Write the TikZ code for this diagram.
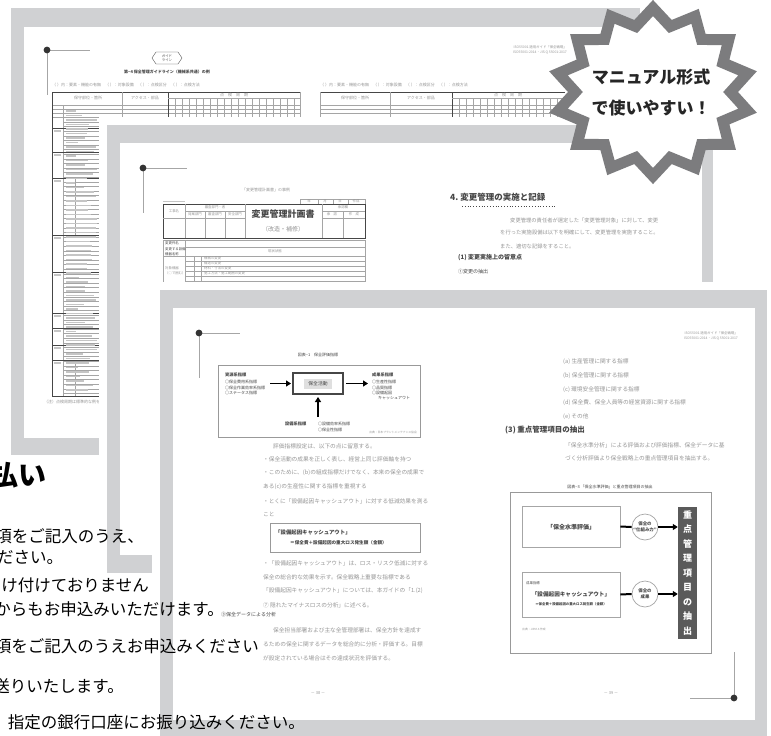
\documentclass[tikz,border=0pt]{standalone}
\usepackage{fontspec}
\setmainfont{Noto Sans CJK JP}
\usetikzlibrary{arrows.meta}
\definecolor{framegray}{RGB}{208,209,211}
\definecolor{stargray}{RGB}{124,124,126}
\definecolor{txt}{RGB}{150,150,150}
\definecolor{dtxt}{RGB}{70,70,70}
\definecolor{rule}{RGB}{165,165,165}
\definecolor{bardark}{RGB}{90,90,90}
\begin{document}
\begin{tikzpicture}[x=1pt,y=-1pt,
 tt/.style={font=\fontsize{4}{4.5}\selectfont, text=txt, inner sep=0pt},
 tx/.style={font=\fontsize{3.4}{3.8}\selectfont, text=txt, inner sep=0pt},
 ts/.style={font=\fontsize{5.7}{6}\selectfont, text=txt, inner sep=0pt},
 hd/.style={font=\bfseries\fontsize{#1}{#1}\selectfont, text=dtxt, inner sep=0pt},
 body/.style={font=\fontsize{16.5}{17}\selectfont, text=black, inner sep=0pt, anchor=east},
 rl/.style={draw=rule, line width=0.3pt},
 dk/.style={draw=dtxt, line width=0.7pt},
 cornerline/.style={draw=gray!70, line width=0.6pt},
 cornerdot/.style={fill=black!80},
 arr/.style={draw=black, line width=1.5pt, -{Triangle[length=5pt,width=6pt]}},
 thk/.style={draw=black, line width=2pt},
 bars/.style={fill=txt!55},
]
\useasboundingbox (0,0) rectangle (771,736);
\clip (0,0) rectangle (771,736);
\fill[white] (0,0) rectangle (771,736);

% ================= PAGE 1 (back) =================
\fill[framegray] (11,8) rectangle (640,455);
\fill[white] (24,27) rectangle (627,438);
\coordinate (c1) at (47,50);
\draw[cornerline] (c1) -- (90,50);
\draw[cornerline] (c1) -- (47,95);
\fill[cornerdot] (c1) circle (3.4);
% emblem
\draw[dtxt, line width=0.4pt] (152,58) -- (156,52) -- (178,52) -- (182,58) -- (178,64) -- (156,64) -- cycle;
\node[tx, align=center, text=dtxt] (emb) at (167,58) {ガイド\\ライン};
\node[hd=4] (p1title) at (167,72) {第−4 保全管理ガイドライン（機械系共通）の例};
\node[tt, anchor=west] (p1note) at (52,85) {（ ）内：要素・機能の有無　（ ）：対象設備　（ ）：点検区分　（ ）：点検方法};
% left page table top
\draw[dk] (52,92) -- (300,92);
\draw[rl] (52,105) -- (300,105);
\foreach \y in {109,113,117} \draw[rl] (52,\y) -- (300,\y);
\draw[rl] (122,92) -- (122,122);
\draw[dk] (168,92) -- (168,122);
\draw[rl] (300,92) -- (300,122);
\draw[rl] (168,98) -- (300,98);
\foreach \x in {175,182,...,296} \draw[rl] (\x,98) -- (\x,122);
\node[tt] (p1h1) at (88,98) {保守部位・箇所};
\node[tt] (p1h2) at (145,98) {アクセス・部品};
\node[tt] (p1h3) at (234,95) {点　検　周　期};
% left strip body
\draw[dk] (52,92) -- (52,396);
\draw[rl] (63,105) -- (63,396);
\draw[rl] (75,178) -- (75,235);
\draw[rl] (75,360) -- (75,396);
\foreach \y in {122,126.6,...,396} \draw[rl] (63,\y) -- (100,\y);
\foreach \y in {128,152,178,235,272,313,328,345,360,396} \draw[dtxt, line width=0.6pt] (52,\y) -- (100,\y);
\pgfmathsetseed{3}
\foreach \y in {111,115.5,...,392} {
  \pgfmathsetmacro\L{8+24*rnd}
  \fill[bars] (66,\y-0.8) rectangle (66+\L,\y+0.8);
}
\foreach \y in {131,155,181,238,275,316,331,348,363} \fill[bars] (54,\y-0.8) rectangle (61,\y+0.8);
\node[tt, anchor=west] (p1foot) at (44,402) {（注）点検周期は標準的な例を示す。};
% right page of page 1
\node[tx, anchor=east] (p1hr1) at (567,47) {ISO55001 適用ガイド「保全戦略」};
\node[tx, anchor=east] (p1hr2) at (567,53) {ISO55001:2014・JIS Q 55001:2017};
\node[tt, anchor=west] (p1noter) at (320,85) {（ ）内：要素・機能の有無　（ ）：対象設備　（ ）：点検区分　（ ）：点検方法};
\draw[dk] (320,92) -- (565,92);
\draw[rl] (320,105) -- (565,105);
\foreach \y in {109,113,117} \draw[rl] (320,\y) -- (565,\y);
\draw[rl] (320,92) -- (320,122);
\draw[rl] (390,92) -- (390,122);
\draw[dk] (452,92) -- (452,122);
\draw[rl] (452,98) -- (565,98);
\foreach \x in {459,466,...,565} \draw[rl] (\x,98) -- (\x,122);
\node[tt] (p1h4) at (355,98) {保守部位・箇所};
\node[tt] (p1h5) at (421,98) {アクセス・部品};
\node[tt] (p1h6) at (508,95) {点　検　周　期};

% ================= PAGE 2 (middle) =================
\fill[white] (99,117) rectangle (721,581);
\fill[framegray] (107,125) rectangle (713,573);
\fill[white] (120,143) rectangle (702,555);
\coordinate (c2) at (143,168);
\draw[cornerline] (c2) -- (187,168);
\draw[cornerline] (c2) -- (143,213);
\fill[cornerdot] (c2) circle (3.4);
\node[tt] (p2title) at (266,190) {「変更管理計画書」の事例};
% small date box
\draw[rl] (300,199) rectangle (365,204);
\foreach \x in {318,333,348} \draw[rl] (\x,199) -- (\x,204);
\node[tx] (d1) at (309,201.5) {年};
\node[tx] (d2) at (325,201.5) {月};
\node[tx] (d3) at (340,201.5) {日};
\node[tx] (d4) at (356,201.5) {作成};
\fill[bars] (163,200.5) rectangle (185,202);
% main table
\draw[dtxt, line width=1pt] (163,204) rectangle (365,238);
\draw[rl] (185,204) -- (185,238);
\draw[rl] (245,204) -- (245,238);
\draw[rl] (322,204) -- (322,238);
\draw[rl] (185,211) -- (245,211);
\draw[rl] (163,218) -- (245,218);
\draw[rl] (205,211) -- (205,238);
\draw[rl] (225,211) -- (225,238);
\draw[rl] (322,211) -- (365,211);
\draw[rl] (322,218) -- (365,218);
\draw[rl] (343,211) -- (343,238);
\node[tx] (k1) at (174,211) {工事名};
\node[tx] (k2) at (215,207.5) {審査部門・者};
\node[tx] (k3) at (195,214.5) {発案部門};
\node[tx] (k4) at (215,214.5) {審査部門};
\node[tx] (k5) at (235,214.5) {安全部門};
\node[tx] (k6) at (343,207.5) {承認欄};
\node[tx] (k7) at (332,214.5) {承　認};
\node[tx] (k8) at (354,214.5) {作　成};
\node[hd=9] (plan) at (283,214) {変更管理計画書};
\node[font=\fontsize{6}{6}\selectfont, text=txt, inner sep=0pt] (plan2) at (283,229) {（改造・補修）};
% lower table
\draw[rl] (163,240) -- (365,240);
\draw[rl] (185,247) -- (365,247);
\draw[rl] (163,256) -- (365,256);
\foreach \y in {261,266,271,276,281,286} \draw[rl] (185,\y) -- (365,\y);
\draw[rl] (163,240) -- (163,290);
\draw[rl] (185,240) -- (185,290);
\draw[rl] (365,240) -- (365,290);
\draw[rl] (194,256) -- (194,290);
\draw[rl] (201,256) -- (201,290);
\node[tx, anchor=west, text=dtxt] (r1) at (165,243) {変更件名};
\node[tx, anchor=west, text=dtxt] (r2) at (165,249) {変更する設備};
\node[tx, anchor=west, text=dtxt] (r3) at (165,254) {機器名称};
\node[tx] (r4) at (275,251.5) {現状状態};
\node[tx, anchor=west] (r5) at (165,268) {対象機器};
\node[tx, anchor=west] (r6) at (165,273) {（○で囲む）};
\node[tx, anchor=west] (i1) at (204,258.5) {機械の変更};
\node[tx, anchor=west] (i2) at (204,263.5) {構造の変更};
\node[tx, anchor=west] (i3) at (204,268.5) {材料・寸法の変更};
\node[tx, anchor=west] (i4) at (204,273.5) {施工方法・施工範囲の変更};
% right page of page 2
\node[hd=8.5, anchor=west] (p2h) at (450,197) {4.\ 変更管理の実施と記録};
\draw[dtxt, line width=0.8pt, dotted] (462,206) -- (556,206);
\node[font=\fontsize{5.3}{6}\selectfont, text=txt, inner sep=0pt, anchor=west] (p2a) at (510,220) {変更管理の責任者が選定した「変更管理対象」に対して、変更};
\node[font=\fontsize{5.3}{6}\selectfont, text=txt, inner sep=0pt, anchor=west] (p2b) at (500,232) {を行った実施設備は以下を明確にして、変更管理を実施すること。};
\node[font=\fontsize{5.3}{6}\selectfont, text=txt, inner sep=0pt, anchor=west] (p2c) at (500,246) {また、適切な記録をすること。};
\node[hd=6, anchor=west] (p2d) at (458,258) {(1) 変更実施上の留意点};
\node[font=\fontsize{5}{6}\selectfont, text=dtxt, inner sep=0pt, anchor=west] (p2e) at (458,272) {①変更の抽出};

% ================= PAGE 3 (front) =================
\fill[white] (152,282) rectangle (771,736);
\fill[framegray] (160,290) rectangle (767,740);
\fill[white] (173,308) rectangle (755,720);
\coordinate (c3) at (199,333);
\draw[cornerline] (c3) -- (240,333);
\draw[cornerline] (c3) -- (199,378);
\fill[cornerdot] (c3) circle (3.4);
% figure 1
\node[tt, text=dtxt] (f1t) at (318,355) {図表−1　保全評価指標};
\draw[draw=gray!80, line width=0.8pt] (218,365) rectangle (420,437);
\node[hd=4.2, anchor=west] (f1L) at (225,375) {資源系指標};
\node[tt, anchor=west, text=dtxt] (f1L1) at (225,382) {○保全費用系指標};
\node[tt, anchor=west, text=dtxt] (f1L2) at (225,387.5) {○保全作業効率系指標};
\node[tt, anchor=west, text=dtxt] (f1L3) at (225,393) {○ステータス指標};
\draw[dtxt, line width=1.3pt] (293,373) rectangle (343,394);
\node[fill=gray!25, minimum width=28pt, minimum height=10pt, inner sep=0pt, font=\fontsize{4.8}{5}\selectfont, text=dtxt] (f1C) at (318,383.5) {保全活動};
\coordinate (f1a) at (270,383.5);
\coordinate (f1aE) at (291,383.5);
\coordinate (f1b) at (346,383.5);
\coordinate (f1c) at (368,383.5);
\coordinate (f1d) at (318,417);
\coordinate (f1e) at (318,397);
\draw[arr] (f1a) -- (f1aE);
\draw[arr] (f1b) -- (f1c);
\draw[arr] (f1d) -- (f1e);
\node[hd=4.2, anchor=west] (f1R) at (372,375) {成果系指標};
\node[tt, anchor=west, text=dtxt] (f1R1) at (372,382) {○生産性指標};
\node[tt, anchor=west, text=dtxt] (f1R2) at (372,387.5) {○品質指標};
\node[tt, anchor=west, text=dtxt] (f1R3) at (372,393) {○設備起因};
\node[tt, anchor=west, text=dtxt] (f1R4) at (378,398.5) {キャッシュアウト};
\node[hd=4.2, anchor=west] (f1B) at (285,424) {設備系指標};
\node[tt, anchor=west, text=dtxt] (f1B1) at (318,424) {○設備効率系指標};
\node[tt, anchor=west, text=dtxt] (f1B2) at (318,430) {○保全性指標};
\node[font=\fontsize{2.8}{3}\selectfont, text=txt, inner sep=0pt, anchor=east] (f1src) at (417,432) {出典：日本プラントメンテナンス協会};
% paragraphs left
\node[ts, anchor=west] (q1) at (273,446) {評価指標設定は、以下の点に留意する。};
\node[ts, anchor=west] (q2) at (263,459) {・保全活動の成果を正しく表し、経営上同じ評価軸を持つ};
\node[ts, anchor=west] (q3) at (263,473) {・このために、(b)の組成指標だけでなく、本来の保全の成果で};
\node[ts, anchor=west] (q4) at (263,487) {ある(c)の生産性に関する指標を重視する};
\node[ts, anchor=west] (q5) at (263,501) {・とくに「設備起因キャッシュアウト」に対する低減効果を測る};
\node[ts, anchor=west] (q6) at (263,514) {こと};
\draw[draw=gray!80, line width=0.7pt] (270,523) rectangle (420,552);
\node[hd=5.4, anchor=west] (bx1) at (275,532) {「設備起因キャッシュアウト」};
\node[font=\bfseries\fontsize{4.6}{5}\selectfont, text=dtxt, inner sep=0pt, anchor=west] (bx2) at (290,543) {＝保全費＋設備起因の重大ロス発生額（金額）};
\node[ts, anchor=west] (q7) at (263,563) {・「設備起因キャッシュアウト」は、ロス・リスク低減に対する};
\node[ts, anchor=west] (q8) at (263,577) {保全の総合的な効果を示す。保全戦略上重要な指標である};
\node[ts, anchor=west] (q9) at (263,591) {「設備起因キャッシュアウト」については、本ガイドの「1.(2)};
\node[ts, anchor=west] (q10) at (263,605) {⑦ 隠れたマイナスロスの分析」に述べる。};
\node[font=\fontsize{5}{5}\selectfont, text=dtxt, inner sep=0pt, anchor=west] (q11) at (221,615) {③保全データによる分析};
\node[ts, anchor=west] (q12) at (273,630) {保全担当部署および主な全管理部署は、保全方針を達成す};
\node[ts, anchor=west] (q13) at (263,644) {るための保全に関するデータを総合的に分析・評価する。目標};
\node[ts, anchor=west] (q14) at (263,658) {が設定されている場合はその達成状況を評価する。};
\node[tt] (pg38) at (318,693) {－ 38 －};
% right page
\node[tx, anchor=east] (p3hr1) at (738,333) {ISO55001 適用ガイド「保全戦略」};
\node[tx, anchor=east] (p3hr2) at (738,339) {ISO55001:2014・JIS Q 55001:2017};
\node[ts, anchor=west] (ia) at (563,362) {(a) 生産管理に関する指標};
\node[ts, anchor=west] (ib) at (563,376) {(b) 保全管理に関する指標};
\node[ts, anchor=west] (ic) at (563,390) {(c) 環境安全管理に関する指標};
\node[ts, anchor=west] (id) at (563,403) {(d) 保全費、保全人員等の経営資源に関する指標};
\node[ts, anchor=west] (ie) at (563,417) {(e) その他};
\node[hd=7.5, anchor=west] (h3) at (505,430) {(3) 重点管理項目の抽出};
\node[ts, anchor=west] (s1) at (565,445) {「保全水準分析」による評価および評価指標、保全データに基};
\node[ts, anchor=west] (s2) at (565,458) {づく分析評価より保全戦略上の重点管理項目を抽出する。};
\node[tt, text=dtxt] (f3t) at (610,487) {図表−3 「保全水準評価」と重点管理項目の抽出};
\draw[draw=gray!80, line width=0.8pt] (510,492) rectangle (711,653);
\node[draw=gray!70, line width=0.6pt, minimum width=98pt, minimum height=41pt, inner sep=0pt] (b1) at (571,526.5) {};
\node[hd=6] (b1t) at (571,527) {「保全水準評価」};
\node[draw=gray!70, line width=0.6pt, minimum width=98pt, minimum height=45pt, inner sep=0pt] (b2) at (571,594.5) {};
\node[font=\fontsize{3.4}{3.6}\selectfont, text=dtxt, inner sep=0pt, anchor=west] (b2a) at (526,583) {成果指標};
\node[hd=5.6] (b2t) at (571,594) {「設備起因キャッシュアウト」};
\node[font=\bfseries\fontsize{3.4}{3.6}\selectfont, text=dtxt, inner sep=0pt] (b2b) at (571,604) {＝保全費＋設備起因の重大ロス発生額（金額）};
\node[draw=gray!70, line width=0.7pt, circle, minimum size=26pt, inner sep=0pt, align=center, font=\bfseries\fontsize{4.4}{5.5}\selectfont, text=dtxt] (o1) at (645,527) {保全の\\“仕組み力”};
\node[draw=gray!70, line width=0.7pt, circle, minimum size=26pt, inner sep=0pt, align=center, font=\bfseries\fontsize{4.4}{5.5}\selectfont, text=dtxt] (o2) at (645,594) {保全の\\成果};
\node[fill=bardark, minimum width=19pt, minimum height=132pt, inner sep=0pt] (bar) at (687.5,573) {};
\node[align=center, font=\bfseries\fontsize{9}{14.5}\selectfont, text=white, inner sep=0pt] (bart) at (687.5,573) {重\\点\\管\\理\\項\\目\\の\\抽\\出};
\draw[thk] (b1.east) -- (o1.west);
\draw[thk] (b2.east) -- (o2.west);
\draw[arr] (o1.east) -- (bar.west |- o1.east);
\draw[arr] (o2.east) -- (bar.west |- o2.east);
\node[font=\fontsize{2.8}{3}\selectfont, text=txt, inner sep=0pt, anchor=west] (f3src) at (522,629) {出典：JIPM-S 作成};
\node[tt] (pg39) at (611,693) {－ 39 －};
\coordinate (c4) at (734,698);
\draw[cornerline] (c4) -- (690,698);
\draw[cornerline] (c4) -- (734,652);
\fill[cornerdot] (c4) circle (3.4);

% ================= STAR =================
\begin{scope}[shift={(653,92)}]
\draw[line width=11pt, draw=stargray, fill=white, line join=miter, miter limit=10]
  (90:97 and 84) \foreach \k [evaluate=\k as \rr using {0.9+0.1*cos(\k*180)}] in {1,...,27} { -- ({90+\k*360/28}:{97*\rr} and {84*\rr}) } -- cycle;
\end{scope}
\node[font=\bfseries\fontsize{17}{17}\selectfont, text=black!85, inner sep=0pt] (st1) at (651,77) {マニュアル形式};
\node[font=\bfseries\fontsize{17}{17}\selectfont, text=black!85, inner sep=0pt] (st2) at (651,108) {で使いやすい！};

% ================= LEFT TEXT =================
\node[font=\bfseries\fontsize{28}{28}\selectfont, inner sep=0pt, anchor=east] (pay) at (47,475) {払い};
\node[body] (t1) at (144,536) {項をご記入のうえ、};
\node[body, anchor=west] (t2) at (-3,557) {ださい。};
\node[body] (t3) at (149,585) {け付けておりません};
\node[body] (t4) at (224,609) {からもお申込みいただけます。};
\node[body] (t5) at (259,646) {項をご記入のうえお申込みください};
\node[body] (t6) at (124,686) {送りいたします。};
\node[body] (t7) at (305,722) {指定の銀行口座にお振り込みください。};
\end{tikzpicture}
\end{document}
